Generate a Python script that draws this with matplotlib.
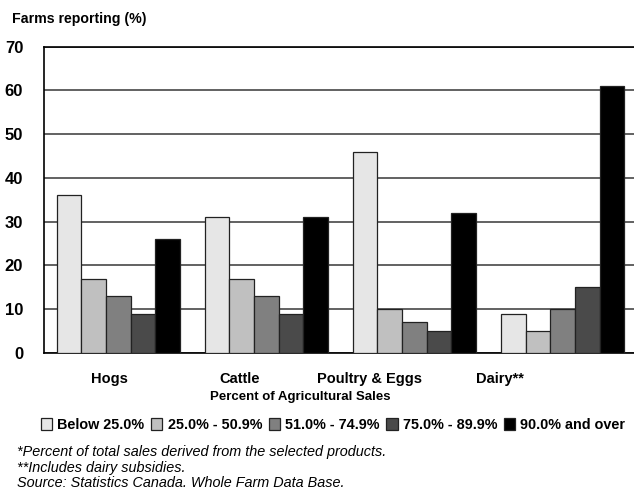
import numpy as np
import matplotlib.pyplot as plt
from matplotlib.patches import Patch

plt.rcParams['font.family'] = ['Liberation Sans', 'DejaVu Sans']

categories = ['Hogs', 'Cattle', 'Poultry & Eggs', 'Dairy**']
series_labels = ['Below 25.0%', '25.0% - 50.9%', '51.0% - 74.9%',
                 '75.0% - 89.9%', '90.0% and over']
values = [
    [36, 31, 46, 9],   # Below 25.0%
    [17, 17, 10, 5],   # 25.0% - 50.9%
    [13, 13, 7, 10],   # 51.0% - 74.9%
    [9, 9, 5, 15],     # 75.0% - 89.9%
    [26, 31, 32, 61],  # 90.0% and over
]
colors = ['#e6e6e6', '#c0c0c0', '#808080', '#4a4a4a', '#000000']
footnotes = ['*Percent of total sales derived from the selected products.',
             '**Includes dairy subsidies.',
             'Source: Statistics Canada. Whole Farm Data Base.']

fig = plt.figure(figsize=(6.34, 4.9), dpi=100)
ax = fig.add_axes([44 / 634, 137 / 490, 1 - 44 / 634, 306.5 / 490])

x = np.arange(len(categories))
w = 1 / 6
for i, (vals, c) in enumerate(zip(values, colors)):
    ax.bar(x + (i - 2) * w, vals, width=w, color=c, edgecolor='#222222',
           linewidth=0.9, zorder=3, label=series_labels[i])

ax.set_xlim(-0.503, 3.483)
ax.set_ylim(0, 70)
ax.set_yticks(range(0, 71, 10))
ax.set_yticklabels([str(v) for v in range(0, 71, 10)], fontweight='bold', fontsize=12)
ax.tick_params(axis='y', length=0, pad=15)
ax.yaxis.grid(True, color='#555555', linewidth=1.3, zorder=0)

# category labels sit slightly left of the bar groups in the original
ax.set_xticks([-0.064, 0.821, 1.693, 2.578])
ax.set_xticklabels(categories, fontweight='bold', fontsize=10.5)
ax.tick_params(axis='x', length=0, pad=14)

ax.spines['right'].set_visible(False)
for s in ['left', 'top', 'bottom']:
    ax.spines[s].set_color('black')
    ax.spines[s].set_linewidth(1.2)

fig.text(12 / 634, 1 - 19 / 490, 'Farms reporting (%)', fontweight='bold',
         fontsize=10.2, va='center', ha='left')
fig.text(300 / 634, 1 - 397 / 490, 'Percent of Agricultural Sales',
         fontweight='bold', fontsize=9.5, va='center', ha='center')

handles = [Patch(facecolor=c, edgecolor='#222222', linewidth=0.9) for c in colors]
fig.legend(handles, series_labels, loc='center', ncol=5,
           bbox_to_anchor=(333 / 634, 1 - 425 / 490), frameon=False,
           prop={'weight': 'bold', 'size': 10.4}, handlelength=0.8,
           handleheight=0.8, handletextpad=0.35, columnspacing=0.45)

for k, t in enumerate(footnotes):
    fig.text(17 / 634, 1 - (452 + 15.5 * k) / 490, t, fontstyle='italic',
             fontsize=10.4, va='center', ha='left')

fig.savefig('out.png', dpi=100)
